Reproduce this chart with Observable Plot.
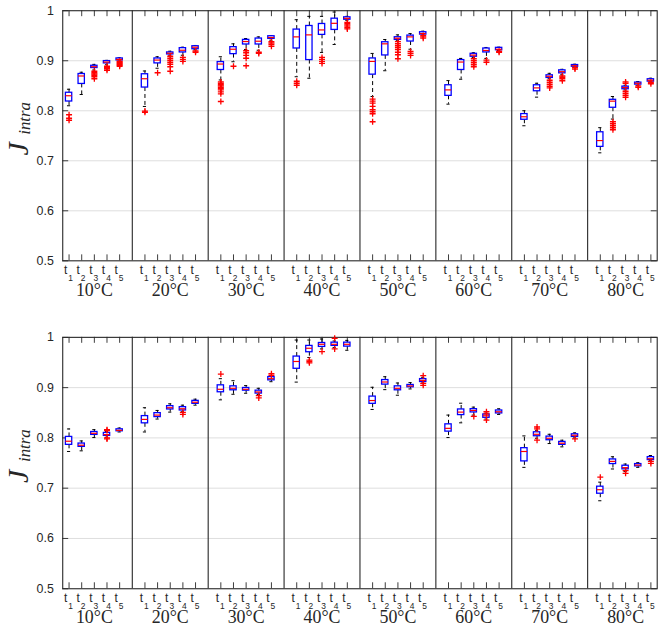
<!DOCTYPE html>
<html><head><meta charset="utf-8">
<script src="https://cdn.jsdelivr.net/npm/d3@7"></script>
<script src="https://cdn.jsdelivr.net/npm/@observablehq/plot@0.6"></script>
<style>
html,body{margin:0;padding:0;overflow:hidden;background:#fff;}
#chart svg{display:block;}
</style></head><body><div id="chart"></div>
<script>
const temps = ["10°C","20°C","30°C","40°C","50°C","60°C","70°C","80°C"];
const times = ["1","2","3","4","5"];
const yTicks = [0.5,0.6,0.7,0.8,0.9,1];
const gridValues = [0.6,0.7,0.8,0.9];
const yLabelMain = "J";
const yLabelSub = "intra";

// ---------- top panel ----------
const topLo  = [0.810,0.8325,0.8815,0.892,0.8995, 0.8086,0.885,0.911,0.911,0.922, 0.8616,0.898,0.9225,0.921,0.941, 0.868,0.865,0.9166,0.9325,0.9808, 0.8285,0.88,0.940,0.923,0.951, 0.8132,0.863,0.9066,0.9046,0.9205, 0.770,0.8272,0.864,0.872,0.887, 0.7159,0.7834,0.8417,0.8503,0.8575];
const topQ1  = [0.8185,0.8536,0.8854,0.8947,0.9007, 0.8464,0.8947,0.9126,0.9166,0.923, 0.8815,0.9132,0.9325,0.9325,0.9437, 0.9245,0.9013,0.9517,0.9616,0.982, 0.8722,0.9106,0.9417,0.9384,0.9523, 0.8298,0.8815,0.908,0.9166,0.921, 0.782,0.839,0.8656,0.8748,0.888, 0.7278,0.806,0.843,0.8523,0.8583];
const topMed = [0.830,0.8695,0.888,0.8974,0.9026, 0.864,0.9013,0.915,0.921,0.927, 0.8934,0.923,0.9384,0.939,0.9464, 0.9477,0.9517,0.9616,0.9748,0.9848, 0.8987,0.9338,0.945,0.9477,0.9543, 0.8417,0.8974,0.9113,0.9205,0.923, 0.788,0.8457,0.8689,0.8781,0.89, 0.7404,0.8192,0.8464,0.855,0.861];
const topQ3  = [0.836,0.8735,0.890,0.8993,0.9046, 0.873,0.9046,0.9166,0.9252,0.929, 0.8974,0.9272,0.9417,0.9444,0.949, 0.9623,0.9695,0.9735,0.9841,0.9868, 0.9046,0.937,0.947,0.9503,0.957, 0.851,0.9013,0.9139,0.9245,0.9258, 0.7934,0.851,0.8709,0.8808,0.8914, 0.757,0.8219,0.8483,0.8563,0.863];
const topHi  = [0.843,0.877,0.8927,0.9007,0.906, 0.8795,0.908,0.919,0.927,0.9305, 0.908,0.9338,0.9444,0.9477,0.9503, 0.982,0.9887,0.9887,0.9974,0.9887, 0.9146,0.9424,0.9517,0.9543,0.959, 0.8603,0.9046,0.916,0.9265,0.927, 0.80,0.855,0.8748,0.8828,0.893, 0.7662,0.8285,0.851,0.8583,0.865];
const topOut = [
  [0.792,0.785,0.781],[],[0.879,0.876,0.8735,0.871,0.868,0.864],[0.889,0.887,0.884,0.881],[0.899,0.897,0.895,0.893,0.891,0.889],
  [0.7993,0.797],[0.876],[0.909,0.905,0.901,0.897,0.893,0.888,0.879],[0.9066,0.9026,0.8987],[0.9195,0.917],
  [0.8576,0.855,0.852,0.8497,0.847,0.8444,0.8417,0.8377,0.8338,0.8185],[0.889],[0.92,0.916,0.9106,0.905,0.89],[0.917,0.9146],[0.938,0.9358,0.933,0.929],
  [0.859,0.855,0.851],[],[0.9066,0.9026,0.8987,0.8947],[],[0.9768,0.974,0.9715,0.969,0.966,0.9636],
  [0.8232,0.8192,0.8152,0.8086,0.802,0.798,0.794,0.778],[],[0.9384,0.934,0.930,0.9265,0.9225,0.917,0.912,0.904],[0.9185,0.9146,0.9106],[0.9503,0.9477,0.945],
  [],[],[0.904,0.9,0.896,0.892,0.888],[0.9013,0.897],[0.919,0.917],
  [],[],[0.861,0.857,0.853,0.849,0.8457],[0.8695,0.867,0.864,0.860],[0.886,0.8834],
  [],[0.778,0.774,0.770,0.766,0.762],[0.8576,0.855,0.839,0.835,0.831,0.827],[0.8497,0.847],[0.857,0.854]
];

// ---------- bottom panel ----------
const botLo  = [0.773,0.7743,0.8007,0.8013,0.8118, 0.8118,0.8375,0.8513,0.852,0.8651, 0.8757,0.8868,0.8888,0.8862,0.9118, 0.911,0.96,0.977,0.9796,0.9743, 0.8566,0.896,0.8849,0.8974,0.9092, 0.8007,0.830,0.8454,0.8375,0.8467, 0.7414,0.7993,0.7888,0.7822,0.80, 0.675,0.7382,0.733,0.7414,0.7546];
const botQ1  = [0.7862,0.7822,0.806,0.804,0.8132, 0.829,0.8414,0.8566,0.8546,0.8678, 0.8908,0.8947,0.894,0.8882,0.9145, 0.9375,0.9704,0.981,0.983,0.9816, 0.8678,0.906,0.8947,0.9007,0.9112, 0.8125,0.8454,0.8507,0.84,0.8487, 0.7533,0.8033,0.7954,0.7862,0.802, 0.689,0.748,0.7375,0.7434,0.756];
const botMed = [0.7934,0.7855,0.8092,0.8066,0.815, 0.8368,0.8454,0.86,0.858,0.871, 0.8967,0.8987,0.8967,0.8914,0.9178, 0.952,0.9783,0.9862,0.9862,0.9862, 0.8743,0.9112,0.8987,0.9033,0.9145, 0.819,0.8513,0.8546,0.844,0.852, 0.773,0.8072,0.7993,0.7895,0.8053, 0.697,0.7533,0.7408,0.746,0.7586];
const botQ3  = [0.802,0.7888,0.8118,0.8099,0.8171, 0.8434,0.8493,0.8632,0.8612,0.8737, 0.9046,0.9026,0.8993,0.894,0.921, 0.9618,0.983,0.9888,0.9895,0.9895, 0.8822,0.9151,0.9026,0.9053,0.917, 0.827,0.8566,0.8572,0.8467,0.8546, 0.7796,0.8112,0.8026,0.7921,0.8072, 0.703,0.7572,0.7447,0.748,0.7618];
const botHi  = [0.8178,0.794,0.8164,0.8125,0.8197, 0.86,0.8546,0.8678,0.8651,0.877, 0.9178,0.9138,0.904,0.8987,0.923, 0.9947,0.9947,0.9967,0.9928,0.994, 0.9007,0.9217,0.9092,0.91,0.9205, 0.8454,0.869,0.8612,0.8493,0.8579, 0.804,0.8151,0.8072,0.7954,0.81, 0.712,0.7625,0.748,0.7507,0.765];
const botOut = [
  [],[],[],[0.8164,0.798,0.8145,0.800],[],
  [],[],[],[0.8507,0.8467],[],
  [0.927],[],[],[0.8842,0.8796],[0.9276,0.9243],
  [],[0.9546,0.952,0.9493],[0.9717],[0.998,0.977],[],
  [],[],[],[],[0.9237,0.9086,0.9046],
  [],[],[0.8428],[0.852,0.8355,0.848],[],
  [],[0.8217,0.8178,0.7954],[],[],[0.798],
  [0.722],[],[0.735,0.7296],[],[0.7533,0.7493]
];

const W = 664, ML = 62.7, MR = 2.3;
const INK = "#262626";
const fmtY = d => String(+d.toFixed(1));

function panel(d, height, marginTop, marginBottom) {
  const rows = d.med.map((m, i) => ({
    pos: 6 * Math.floor(i / 5) + (i % 5) + 1,
    lo: d.lo[i], q1: d.q1[i], med: m, q3: d.q3[i], hi: d.hi[i], sub: times[i % 5]
  }));
  const outs = d.out.flatMap((arr, i) => arr.map(v => ({pos: rows[i].pos, v})));
  const groups = temps.map((t, g) => ({pos: 6 * g + 3, label: t}));
  const seps = temps.slice(1).map((t, g) => 6 * (g + 1));
  const ph = height - marginTop - marginBottom;
  const pw = W - ML - MR;
  const tl = 6;
  return Plot.plot({
    width: W, height, marginTop, marginBottom, marginLeft: ML, marginRight: MR,
    x: {domain: [0.5, 47.5], axis: null},
    y: {domain: [0.5, 1], axis: null},
    style: {fontFamily: "Liberation Sans, Arial, sans-serif", fontSize: "12.5px", color: INK, background: "white", overflow: "visible"},
    marks: [
      Plot.ruleY(gridValues, {stroke: "#dedede", strokeWidth: 1}),
      Plot.ruleX(seps, {stroke: INK, strokeWidth: 1.1}),
      Plot.ruleX(rows, {x: "pos", insetTop: ph - tl, stroke: INK, strokeWidth: 0.9}),
      Plot.ruleX(rows, {x: "pos", insetBottom: ph - tl, stroke: INK, strokeWidth: 0.9}),
      Plot.ruleY(yTicks, {insetRight: pw - tl, stroke: INK, strokeWidth: 0.9}),
      Plot.ruleY(yTicks, {insetLeft: pw - tl, stroke: INK, strokeWidth: 0.9}),
      Plot.frame({stroke: INK, strokeWidth: 1.1}),
      Plot.text(yTicks, {y: d => d, frameAnchor: "left", textAnchor: "end", dx: -9, text: fmtY, fill: INK, fontSize: 12.5}),
      // x tick labels t_n
      Plot.text(rows, {x: "pos", frameAnchor: "bottom", text: () => "t", dx: -3.5, dy: 13, fill: INK, fontSize: 12}),
      Plot.text(rows, {x: "pos", frameAnchor: "bottom", text: "sub", dx: 1.5, dy: 20.5, fill: INK, fontSize: 8.5}),
      Plot.text(groups, {x: "pos", frameAnchor: "bottom", text: "label", dy: 35, fill: INK, fontSize: 18, fontFamily: "Liberation Serif, serif"}),
      // y label
      Plot.text([yLabelMain], {frameAnchor: "left", rotate: -90, text: d => d, dx: -45, dy: 20, fill: INK, fontSize: 30, fontStyle: "italic", fontFamily: "Liberation Serif, serif"}),
      Plot.text([yLabelSub], {frameAnchor: "left", rotate: -90, text: d => d, dx: -38, dy: -1, fill: INK, fontSize: 17, fontStyle: "italic", fontFamily: "Liberation Serif, serif"}),
      // whiskers
      Plot.ruleX(rows, {x: "pos", y1: "q3", y2: "hi", stroke: "#000", strokeWidth: 1, strokeDasharray: "4,3"}),
      Plot.ruleX(rows, {x: "pos", y1: "q1", y2: "lo", stroke: "#000", strokeWidth: 1, strokeDasharray: "4,3"}),
      Plot.ruleY(rows, {y: "hi", x1: r => r.pos - 0.125, x2: r => r.pos + 0.125, stroke: "#000", strokeWidth: 1}),
      Plot.ruleY(rows, {y: "lo", x1: r => r.pos - 0.125, x2: r => r.pos + 0.125, stroke: "#000", strokeWidth: 1}),
      // boxes
      Plot.rect(rows, {x1: r => r.pos - 0.25, x2: r => r.pos + 0.25, y1: "q1", y2: "q3", fill: "white", stroke: "#0000ff", strokeWidth: 1.3}),
      Plot.ruleY(rows, {y: "med", x1: r => r.pos - 0.25, x2: r => r.pos + 0.25, stroke: "#ff0000", strokeWidth: 1.2}),
      // outliers
      Plot.dot(outs, {x: "pos", y: "v", symbol: "plus", r: 2.1, stroke: "#ff0000", strokeWidth: 1.3})
    ]
  });
}

const chart = document.getElementById("chart");
chart.append(panel({lo: topLo, q1: topQ1, med: topMed, q3: topQ3, hi: topHi, out: topOut}, 320, 10.3, 57.7));
chart.append(panel({lo: botLo, q1: botQ1, med: botMed, q3: botQ3, hi: botHi, out: botOut}, 317, 19, 44.7));
</script></body></html>
